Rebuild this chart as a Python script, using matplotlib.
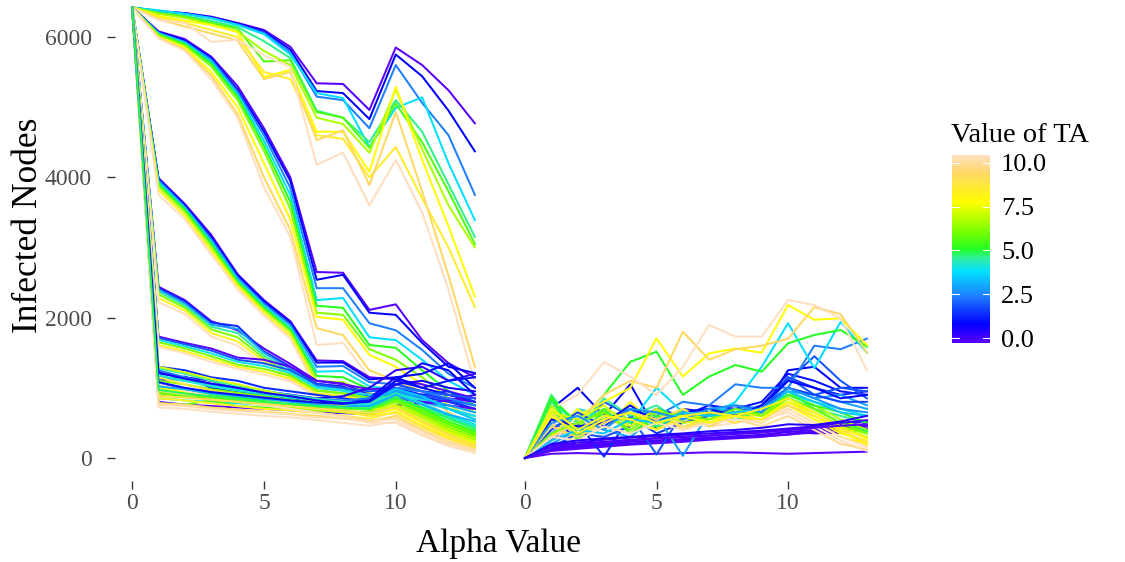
import numpy as np
import matplotlib
matplotlib.use("Agg")
import matplotlib.pyplot as plt
from matplotlib.colors import LinearSegmentedColormap, Normalize
from matplotlib.colorbar import ColorbarBase

plt.rcParams['font.family'] = ['Liberation Serif', 'DejaVu Serif']

alpha_values = list(range(14))

# ---------------- left panel (infected nodes) ----------------
famA_ta = [0, 1, 2.5, 3.8, 4.6, 5.5, 6.5, 7.5, 8.2, 9, 10]
famA = [
    [6420, 6360, 6340, 6290, 6200, 6100, 5860, 5340, 5330, 4960, 5850, 5600, 5240, 4770],
    [6420, 6370, 6340, 6280, 6190, 6080, 5820, 5230, 5200, 4830, 5750, 5440, 4950, 4370],
    [6420, 6370, 6330, 6270, 6180, 6060, 5780, 5150, 5100, 4700, 5600, 5060, 4600, 3750],
    [6420, 6380, 6330, 6270, 6170, 6040, 5750, 5200, 5130, 4430, 4990, 5140, 4200, 3390],
    [6420, 6350, 6300, 6230, 6140, 5940, 5700, 4950, 4850, 4500, 5100, 4650, 3900, 3150],
    [6420, 6340, 6290, 6200, 6120, 5650, 5670, 4930, 4850, 4420, 5050, 4500, 3800, 3050],
    [6420, 6330, 6270, 6180, 6080, 5800, 5600, 4850, 4760, 4350, 5250, 4400, 3600, 3000],
    [6420, 6300, 6230, 6170, 6070, 5430, 5530, 4650, 4650, 4080, 5290, 4250, 3300, 2300],
    [6420, 6280, 6200, 6100, 6000, 5500, 5400, 4600, 4550, 4000, 4430, 3700, 3000, 2150],
    [6420, 6250, 6150, 6050, 5950, 5400, 5500, 4530, 4670, 3890, 4930, 3800, 2600, 1300],
    [6420, 6240, 6200, 5930, 5960, 5740, 5570, 4180, 4350, 3600, 4250, 3500, 2400, 1050],
]
famB_ta = [0, 1, 2.5, 3.8, 5, 6, 7.5, 9, 10]
famB = [
    [6420, 6080, 5970, 5720, 5300, 4700, 4000, 2650, 2640, 2110, 2190, 1680, 1350, 1150],
    [6420, 6070, 5950, 5700, 5250, 4650, 3950, 2540, 2610, 2070, 2040, 1640, 1300, 1210],
    [6420, 6060, 5930, 5680, 5220, 4600, 3850, 2420, 2420, 1920, 1820, 1540, 1200, 1000],
    [6420, 6050, 5920, 5650, 5180, 4520, 3750, 2250, 2280, 1720, 1680, 1400, 1100, 900],
    [6420, 6040, 5900, 5620, 5150, 4450, 3650, 2170, 2140, 1610, 1570, 1250, 950, 750],
    [6420, 6030, 5880, 5580, 5100, 4380, 3550, 2070, 2040, 1550, 1400, 1150, 850, 650],
    [6420, 6000, 5850, 5500, 5000, 4200, 3400, 2010, 1970, 1470, 1300, 1050, 750, 550],
    [6420, 5990, 5820, 5450, 4900, 4000, 3250, 1850, 1750, 1250, 1100, 950, 650, 450],
    [6420, 5980, 5800, 5400, 4850, 3860, 3150, 1610, 1640, 1150, 1000, 850, 600, 400],
]
famC_ta = [0, 1, 2.5, 4, 5, 6.5, 8, 10]
famC = [
    [6420, 3990, 3620, 3180, 2620, 2250, 1950, 1390, 1380, 1150, 1120, 1050, 950, 850],
    [6420, 3980, 3600, 3150, 2600, 2230, 1930, 1360, 1360, 1120, 1150, 1000, 900, 800],
    [6420, 3960, 3580, 3120, 2570, 2200, 1900, 1300, 1310, 1080, 1050, 950, 820, 700],
    [6420, 3930, 3560, 3080, 2540, 2170, 1860, 1230, 1240, 1020, 980, 850, 700, 550],
    [6420, 3900, 3540, 3050, 2510, 2140, 1830, 1170, 1150, 980, 920, 780, 600, 450],
    [6420, 3860, 3500, 3000, 2480, 2110, 1790, 1100, 1080, 920, 850, 680, 500, 350],
    [6420, 3820, 3450, 2950, 2450, 2070, 1740, 1050, 1000, 850, 800, 600, 420, 280],
    [6420, 3750, 3400, 2900, 2400, 2030, 1700, 980, 950, 780, 740, 520, 350, 200],
]
famD_ta = [0, 1.5, 3, 4.5, 6, 8, 10]
famD = [
    [6420, 2440, 2250, 1950, 1820, 1560, 1340, 1100, 1060, 900, 950, 900, 850, 800],
    [6420, 2420, 2230, 1930, 1880, 1520, 1300, 1060, 1020, 870, 920, 870, 800, 700],
    [6420, 2400, 2200, 1900, 1840, 1500, 1270, 1030, 990, 850, 880, 800, 700, 600],
    [6420, 2370, 2170, 1870, 1780, 1460, 1230, 1000, 960, 820, 840, 720, 580, 450],
    [6420, 2330, 2140, 1830, 1720, 1420, 1190, 960, 920, 790, 800, 650, 480, 350],
    [6420, 2280, 2100, 1780, 1660, 1380, 1150, 920, 880, 760, 760, 570, 380, 250],
    [6420, 2220, 2050, 1730, 1600, 1330, 1100, 880, 840, 720, 720, 500, 300, 150],
]
famE_ta = [0, 2, 4, 6, 8, 10]
famE = [
    [6420, 1730, 1640, 1560, 1430, 1400, 1300, 1100, 1050, 980, 1000, 950, 900, 850],
    [6420, 1710, 1620, 1530, 1400, 1350, 1250, 1050, 1000, 950, 980, 900, 820, 750],
    [6420, 1680, 1590, 1490, 1370, 1310, 1210, 1000, 960, 900, 930, 820, 700, 600],
    [6420, 1650, 1560, 1450, 1330, 1270, 1170, 960, 920, 860, 880, 720, 580, 450],
    [6420, 1610, 1520, 1410, 1300, 1230, 1130, 920, 880, 820, 830, 640, 450, 320],
    [6420, 1580, 1490, 1370, 1270, 1190, 1090, 880, 850, 780, 780, 560, 350, 200],
]
famF_ta = [0, 0, 0.5, 1, 1, 1.5, 2, 2.5, 3, 3.5, 4, 4.5, 5, 5.5, 6, 6.5,
           7, 7.5, 8, 8.5, 9, 9.5, 10, 10, 4.2, 5.8, 3.2, 0.8, 8.8, 9.8, 1.2, 4.8]
famF = [
    [6420, 1050, 980, 950, 900, 850, 820, 760, 700, 720, 850, 800, 750, 700],
    [6420, 800, 760, 740, 720, 700, 680, 650, 640, 620, 750, 780, 820, 900],
    [6420, 1200, 1150, 1100, 1000, 950, 900, 850, 880, 1000, 1250, 1300, 1100, 1200],
    [6420, 1100, 1160, 1000, 940, 900, 850, 800, 780, 850, 1150, 1200, 1350, 1000],
    [6420, 900, 950, 880, 820, 850, 780, 760, 800, 780, 1100, 1350, 1250, 900],
    [6420, 1300, 1250, 1150, 1100, 1000, 950, 900, 850, 800, 1000, 900, 950, 800],
    [6420, 1000, 960, 900, 880, 840, 800, 780, 760, 780, 1050, 950, 900, 850],
    [6420, 1250, 1150, 1050, 1000, 950, 900, 850, 820, 850, 1000, 950, 850, 750],
    [6420, 950, 900, 870, 850, 900, 820, 780, 760, 740, 950, 850, 750, 650],
    [6420, 1150, 1100, 1050, 980, 920, 870, 820, 790, 800, 980, 880, 700, 550],
    [6420, 850, 820, 800, 780, 760, 740, 720, 700, 720, 900, 780, 620, 480],
    [6420, 1280, 1200, 1100, 1020, 960, 890, 840, 800, 780, 920, 760, 580, 420],
    [6420, 1000, 950, 900, 860, 820, 790, 750, 720, 700, 850, 700, 520, 380],
    [6420, 780, 760, 820, 740, 720, 700, 680, 660, 650, 820, 650, 480, 330],
    [6420, 1100, 1050, 980, 930, 880, 830, 780, 740, 700, 800, 620, 440, 300],
    [6420, 900, 870, 840, 800, 760, 720, 680, 650, 620, 760, 580, 400, 260],
    [6420, 1300, 1220, 1130, 1050, 960, 880, 800, 740, 680, 740, 540, 360, 220],
    [6420, 1000, 940, 880, 840, 790, 750, 700, 660, 600, 700, 500, 320, 200],
    [6420, 850, 820, 780, 740, 700, 680, 640, 600, 560, 660, 460, 290, 170],
    [6420, 1150, 1050, 960, 900, 840, 780, 720, 660, 600, 640, 440, 270, 150],
    [6420, 780, 760, 720, 690, 660, 630, 600, 560, 520, 600, 400, 230, 120],
    [6420, 950, 900, 850, 800, 750, 700, 650, 600, 540, 560, 380, 210, 100],
    [6420, 720, 700, 660, 630, 600, 580, 540, 500, 460, 520, 340, 180, 80],
    [6420, 1050, 960, 880, 820, 760, 700, 640, 580, 500, 500, 320, 170, 70],
    [6420, 1180, 1100, 1020, 960, 910, 860, 820, 780, 760, 900, 780, 600, 450],
    [6420, 930, 880, 860, 820, 790, 760, 730, 700, 690, 830, 680, 500, 350],
    [6420, 1020, 980, 920, 880, 840, 800, 760, 730, 740, 900, 760, 620, 520],
    [6420, 1220, 1130, 1060, 1000, 930, 880, 820, 780, 800, 1050, 1100, 1000, 950],
    [6420, 880, 860, 830, 800, 770, 740, 700, 680, 640, 720, 520, 330, 180],
    [6420, 760, 740, 700, 670, 650, 620, 580, 560, 520, 560, 380, 220, 110],
    [6420, 1080, 1000, 940, 900, 860, 820, 790, 770, 820, 1100, 1000, 1100, 1150],
    [6420, 970, 920, 880, 840, 800, 770, 740, 720, 700, 860, 720, 560, 410],
]

# ---------------- right panel ----------------
right_ta = [0, 0, 0, 0.3, 0.5, 0.2, 1, 1.2, 1.5, 2, 2.5, 3, 3.8, 4, 4.5, 5, 5,
            6, 7.5, 7.5, 8, 9, 10, 10, 9.5, 6.5, 3, 8.5, 2,
            5.2, 4.8, 1.8, 1.0, 7, 9, 6, 3.5, 2.8, 8, 10, 7.8, 0.4, 0.1, 0.6]
right_vals = [
    [0, 60, 70, 60, 50, 60, 70, 80, 80, 70, 60, 70, 80, 90],
    [0, 120, 150, 180, 200, 220, 250, 270, 290, 310, 330, 380, 420, 450],
    [0, 100, 130, 160, 190, 210, 230, 260, 280, 300, 340, 360, 400, 420],
    [0, 140, 170, 200, 230, 250, 270, 290, 310, 330, 370, 400, 440, 470],
    [0, 150, 200, 230, 260, 280, 300, 320, 350, 380, 400, 430, 480, 520],
    [0, 130, 160, 190, 200, 240, 260, 280, 300, 320, 380, 350, 360, 500],
    [0, 700, 1000, 600, 1050, 400, 700, 650, 700, 650, 1250, 1300, 1000, 1000],
    [0, 500, 300, 650, 500, 700, 600, 750, 700, 800, 1200, 1100, 950, 900],
    [0, 250, 500, 20, 600, 350, 500, 650, 600, 750, 1150, 1000, 900, 950],
    [0, 600, 400, 800, 600, 50, 650, 700, 750, 700, 1100, 1450, 1100, 850],
    [0, 350, 600, 500, 700, 600, 800, 750, 1050, 1000, 1000, 1600, 1550, 1700],
    [0, 450, 550, 400, 300, 600, 30, 650, 700, 650, 950, 900, 800, 700],
    [0, 300, 700, 600, 500, 1000, 650, 600, 800, 1300, 1920, 1280, 1940, 1500],
    [0, 800, 500, 700, 400, 550, 600, 700, 650, 700, 900, 800, 700, 600],
    [0, 900, 400, 850, 600, 750, 500, 600, 550, 650, 850, 700, 600, 500],
    [0, 850, 500, 900, 1370, 1515, 900, 1160, 1325, 1230, 1634, 1753, 1824, 1586],
    [0, 700, 300, 600, 450, 700, 550, 600, 700, 650, 850, 700, 500, 400],
    [0, 600, 450, 700, 550, 650, 500, 650, 600, 550, 800, 650, 450, 350],
    [0, 550, 600, 800, 1000, 1705, 1160, 1490, 1560, 1500, 2180, 1970, 1990, 1610],
    [0, 300, 700, 400, 800, 450, 700, 500, 650, 600, 750, 550, 350, 250],
    [0, 500, 200, 650, 350, 600, 450, 550, 600, 500, 700, 500, 300, 200],
    [0, 300, 500, 900, 1100, 1000, 1800, 1400, 1550, 1600, 1700, 2150, 2050, 1500],
    [0, 700, 900, 1370, 1160, 900, 1300, 1895, 1730, 1730, 2250, 2180, 1990, 1250],
    [0, 200, 600, 300, 500, 400, 550, 450, 500, 550, 650, 450, 250, 100],
    [0, 500, 250, 700, 400, 550, 450, 500, 550, 450, 600, 400, 200, 120],
    [0, 750, 350, 500, 650, 400, 700, 550, 650, 600, 900, 750, 550, 400],
    [0, 200, 400, 550, 700, 450, 600, 700, 650, 750, 1000, 850, 900, 750],
    [0, 650, 300, 550, 450, 700, 400, 600, 500, 650, 750, 600, 400, 180],
    [0, 150, 350, 300, 450, 700, 500, 600, 700, 650, 1150, 900, 1000, 950],
    [0, 880, 250, 700, 350, 600, 550, 700, 600, 650, 900, 750, 650, 500],
    [0, 820, 300, 650, 500, 450, 650, 600, 650, 700, 950, 700, 500, 380],
    [0, 400, 650, 450, 700, 550, 600, 650, 600, 700, 1000, 900, 800, 800],
    [0, 550, 450, 500, 750, 500, 650, 700, 600, 750, 1100, 1000, 850, 900],
    [0, 650, 550, 750, 450, 700, 500, 550, 650, 600, 800, 650, 450, 300],
    [0, 450, 300, 500, 650, 550, 700, 450, 600, 550, 750, 600, 400, 220],
    [0, 350, 500, 650, 400, 650, 600, 550, 700, 600, 850, 700, 500, 350],
    [0, 250, 400, 350, 550, 500, 650, 600, 650, 700, 950, 800, 650, 600],
    [0, 500, 600, 400, 700, 650, 550, 700, 750, 650, 1000, 850, 700, 650],
    [0, 700, 400, 600, 550, 400, 600, 650, 600, 700, 850, 650, 420, 280],
    [0, 300, 250, 450, 350, 500, 400, 500, 550, 500, 700, 500, 300, 150],
    [0, 600, 350, 550, 650, 500, 600, 500, 600, 550, 800, 600, 380, 200],
    [0, 180, 220, 260, 290, 310, 330, 350, 370, 390, 420, 450, 500, 540],
    [0, 160, 190, 220, 250, 280, 300, 320, 340, 360, 400, 430, 460, 480],
    [0, 200, 250, 280, 300, 330, 350, 380, 400, 430, 480, 470, 520, 600],
]

y_ticks = [0, 2000, 4000, 6000]
x_ticks = [0, 5, 10]
legend_ticks = [0, 2.5, 5, 7.5, 10]
legend_labels = ["0.0", "2.5", "5.0", "7.5", "10.0"]

cmap = LinearSegmentedColormap.from_list("ta", [
    (0.0, "#5A00FF"), (0.1, "#0000FF"), (0.25, "#1E7FFF"), (0.38, "#00E0FF"),
    (0.45, "#30F0A0"), (0.5, "#22FF22"), (0.6, "#80FF00"), (0.75, "#FFFF00"),
    (0.9, "#FFD860"), (1.0, "#FFDFC0")])
norm = Normalize(0, 10)

W, H = 1125, 562
fig = plt.figure(figsize=(W / 100, H / 100), dpi=100)
bottom_px = 480.5
axL = fig.add_axes([115 / W, 1 - bottom_px / H, (492 - 115) / W, bottom_px / H])
axR = fig.add_axes([508 / W, 1 - bottom_px / H, (884 - 508) / W, bottom_px / H])

lw = 1.45
for tas, fam in [(famA_ta, famA), (famB_ta, famB), (famC_ta, famC),
                 (famD_ta, famD), (famE_ta, famE), (famF_ta, famF)]:
    for ta, vals in zip(tas, fam):
        axL.plot(alpha_values, vals, color=cmap(norm(ta)), lw=lw)
for ta, vals in zip(right_ta, right_vals):
    axR.plot(alpha_values, vals, color=cmap(norm(ta)), lw=lw)

tick_col = "#4D4D4D"
for ax in (axL, axR):
    ax.set_xlim(-0.65, 13.65)
    ax.set_ylim(-321, 6527)
    for s in ax.spines.values():
        s.set_visible(False)
    ax.set_xticks(x_ticks)
    ax.set_xticklabels([str(v) for v in x_ticks])
    ax.tick_params(axis='x', length=5.5, width=1, color="#333333",
                   labelcolor=tick_col, labelsize=17, pad=3.5)
    ax.set_facecolor("white")
axL.set_yticks(y_ticks)
axL.set_yticklabels([str(v) for v in y_ticks])
axL.tick_params(axis='y', length=5.5, width=1, color="#333333",
                labelcolor=tick_col, labelsize=17, pad=11)
axR.set_yticks([])

fig.text(499 / W, 1 - 544 / H, "Alpha Value", ha="center", va="center",
         fontsize=24, color="black")
fig.text(29 / W, 1 - 225 / H, "Infected Nodes", ha="center", va="center",
         rotation=90, fontsize=25.5, color="black")

# colorbar legend
cax = fig.add_axes([952 / W, 1 - 343 / H, 38 / W, (343 - 155) / H])
cb = ColorbarBase(cax, cmap=cmap, norm=Normalize(-0.28, 10.45),
                  ticks=legend_ticks, orientation="vertical")
cb.outline.set_visible(False)
cax.set_ylim(-0.28, 10.45)
cax.tick_params(axis='y', length=0, labelsize=19, labelcolor="black", pad=8)
cax.set_yticklabels(legend_labels)
for t in legend_ticks:
    cax.plot([0, 0.18], [t, t], color="white", lw=0.8, transform=cax.get_yaxis_transform())
    cax.plot([0.82, 1.0], [t, t], color="white", lw=0.8, transform=cax.get_yaxis_transform())
fig.text(951 / W, 1 - 135 / H, "Value of TA", ha="left", va="center",
         fontsize=20.5, color="black")

fig.savefig("out.png", dpi=100, facecolor="white")
